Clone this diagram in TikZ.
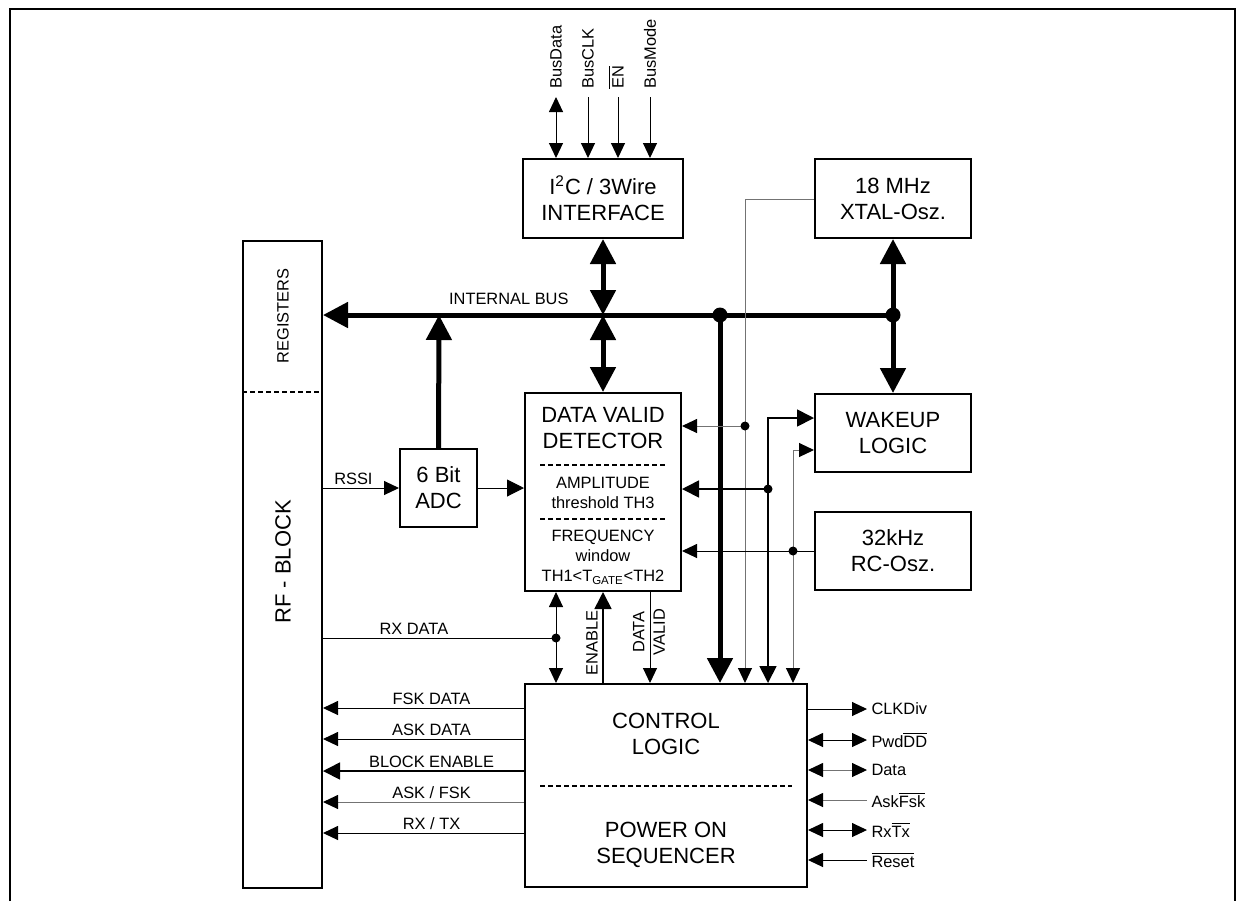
\documentclass[tikz,border=0pt]{standalone}
\usepackage{fontspec}
\setmainfont{Liberation Sans}
\usetikzlibrary{arrows.meta}
\newcommand\boxfont{\fontsize{11}{13}\selectfont}
\newcommand\lblfont{\fontsize{8.2}{10.2}\selectfont}
\newcommand\ovl[1]{$\overline{\mbox{#1}}$}

\begin{document}
\begin{tikzpicture}[x=0.5pt, y=-0.5pt,
    tS/.tip={Triangle[length=7.5pt,width=7pt,color=black]},
    tM/.tip={Triangle[length=8.5pt,width=8.5pt,color=black]},
    tL/.tip={Triangle[length=12.5pt,width=12.5pt]},
    box/.style={draw, line width=1pt, inner sep=0pt, align=center, font=\boxfont},
    txt/.style={inner sep=0pt, align=center, font=\boxfont},
    lbl/.style={inner sep=0pt, align=center, font=\lblfont},
    wire/.style={line width=0.5pt},
    gwire/.style={line width=0.5pt, draw=black!55},
    mwire/.style={line width=0.85pt},
    bus/.style={line width=2.5pt},
    sep/.style={line width=0.75pt, dash pattern=on 2.5pt off 1.5pt}]
    \useasboundingbox (0,0) rectangle (1236,901);
    \draw[line width=1pt] (10,901) -- (10,9) -- (1235,9) -- (1235,901);

    % blocks
    \node[box, minimum width=80pt, minimum height=39.5pt] (iface) at (603,198.5) {I\textsuperscript{2}C / 3Wire\\INTERFACE};
    \node[box, minimum width=78pt, minimum height=39.5pt] (xtal) at (893,198.5) {18 MHz\\XTAL-Osz.};
    \node[box, minimum width=78pt, minimum height=39pt] (wake) at (893,433) {WAKEUP\\LOGIC};
    \node[box, minimum width=78pt, minimum height=39pt] (rc) at (893,551) {32kHz\\RC-Osz.};
    \node[box, minimum width=38.5pt, minimum height=39pt] (adc) at (438.5,488) {6 Bit\\ADC};
    \node[box, minimum width=78pt, minimum height=99pt] (dvd) at (603,492) {};
    \node[box, minimum width=141pt, minimum height=101.5pt] (cl) at (666,785.5) {};
    \node[box, minimum width=39.5pt, minimum height=323.5pt] (rf) at (282.5,564.5) {};

    \node[txt] (dvdt) at (603,428) {DATA VALID\\DETECTOR};
    \node[lbl] (ampl) at (603,493) {AMPLITUDE\\threshold TH3};
    \node[lbl] (freq) at (603,557) {FREQUENCY\\window\\TH1<T\textsubscript{GATE}<TH2};
    \draw[sep] (540,465) -- (665,465);
    \draw[sep] (540,519) -- (665,519);

    \node[txt] (clt) at (666,734) {CONTROL\\LOGIC};
    \node[txt] (post) at (666,845) {POWER ON\\SEQUENCER};
    \draw[sep] (540,786) -- (792,786);

    \node[lbl, rotate=90] (reg) at (283,316) {REGISTERS};
    \node[txt, rotate=90] (rfb) at (283,562) {RF - BLOCK};
    \draw[sep] (rf.west |- 0,392) -- (rf.east |- 0,392);

    % bus pins
    \coordinate (pdata) at (556,97);
    \coordinate (pclk) at (588,97);
    \coordinate (pen) at (618,97);
    \coordinate (pmode) at (650,97);
    \draw[wire, tS-tS] (pdata) -- (iface.north -| pdata);
    \draw[wire, -tS] (pclk) -- (iface.north -| pclk);
    \draw[wire, -tS] (pen) -- (iface.north -| pen);
    \draw[wire, -tS] (pmode) -- (iface.north -| pmode);
    \node[lbl, rotate=90, anchor=west] (lbd) at (556,89) {BusData};
    \node[lbl, rotate=90, anchor=west] (lbc) at (588,89) {BusCLK};
    \node[lbl, rotate=90, anchor=west] (len) at (616,89) {\ovl{EN}};
    \node[lbl, rotate=90, anchor=west] (lbm) at (650,89) {BusMode};

    % internal bus
    \coordinate (j0) at (603,315);
    \coordinate (ja) at (439,315);
    \coordinate (j1) at (720,315);
    \coordinate (j2) at (893,315);
    \draw[bus, -tL] (j2) -- (rf.east |- j2) node[lbl, pos=0.674, above=4pt] (ibus) {INTERNAL BUS};
    \draw[bus, -tL] (adc.north) -- (ja);
    \draw[bus, tL-tL] (iface.south) -- (j0);
    \draw[bus, tL-tL] (j0) -- (dvd.north);
    \draw[bus, tL-tL] (xtal.south) -- (wake.north);
    \draw[bus, -tL] (j1) -- (cl.north -| j1);
    \fill (j1) circle (3.75pt);
    \fill (j2) circle (3.75pt);

    % clocks and wakeup
    \coordinate (c1) at (745,426);
    \coordinate (c2) at (768,489);
    \coordinate (c3) at (793,551);
    \draw[gwire, -tS] (xtal.west |- 0,199) -| (cl.north -| c1);
    \draw[gwire, -tS] (c1) -- (dvd.east |- c1);
    \draw[mwire, tM-tM] (wake.west |- 0,418) -| (cl.north -| c2);
    \draw[mwire, -tM] (c2) -- (dvd.east |- c2);
    \draw[gwire, tS-tS] (wake.west |- 0,450) -| (cl.north -| c3);
    \draw[wire, -tS] (rc.west) -- (dvd.east |- rc.west);
    \fill (c1) circle (2.25pt);
    \fill (c2) circle (2.25pt);
    \fill (c3) circle (2.25pt);

    % detector <-> control logic
    \coordinate (c4) at (556,638);
    \coordinate (en) at (603,640);
    \coordinate (dv) at (650,632);
    \draw[wire] (rf.east |- c4) -- (c4) node[lbl, pos=0.39, above=1.5pt] (lrx) {RX DATA};
    \draw[wire, tS-tS] (dvd.south -| c4) -- (cl.north -| c4);
    \fill (c4) circle (2.25pt);
    \draw[mwire, -tM] (cl.north -| en) -- (dvd.south -| en);
    \node[lbl, rotate=90] (lenable) at (592,643) {ENABLE};
    \draw[wire, -tS] (dvd.south -| dv) -- (cl.north -| dv);
    \node[lbl, rotate=90] (ldv) at (649,632) {DATA\\VALID};

    \draw[wire, -tS] (rf.east |- adc.west) -- (adc.west) node[lbl, pos=0.4, above=1.5pt] (lrssi) {RSSI};
    \draw[wire, -tM] (adc.east) -- (dvd.west |- adc.east);

    % control logic -> rf block
    \draw[wire, -tS] (cl.west |- 0,708) -- (rf.east |- 0,708) node[lbl, pos=0.46, above=1.5pt] (lfsk) {FSK DATA};
    \draw[wire, -tS] (cl.west |- 0,739) -- (rf.east |- 0,739) node[lbl, pos=0.46, above=1.5pt] (lask) {ASK DATA};
    \draw[mwire, -tM] (cl.west |- 0,771) -- (rf.east |- 0,771) node[lbl, pos=0.46, above=1.5pt] (lblk) {BLOCK ENABLE};
    \draw[gwire, -tS] (cl.west |- 0,802) -- (rf.east |- 0,802) node[lbl, pos=0.46, above=1.5pt] (laf) {ASK / FSK};
    \draw[wire, -tS] (cl.west |- 0,833) -- (rf.east |- 0,833) node[lbl, pos=0.46, above=1.5pt] (lrt) {RX / TX};

    % pins
    \draw[wire, -tS] (cl.east |- 0,709) -- (867,709) node[lbl, right=2pt] (lclk) {CLKDiv};
    \draw[wire, tS-tS] (cl.east |- 0,740) -- (867,740) node[lbl, right=2pt] (lpwd) {Pwd\ovl{DD}};
    \draw[gwire, tS-tS] (cl.east |- 0,770) -- (867,770) node[lbl, right=2pt] (ldata) {Data};
    \draw[gwire, tS-] (cl.east |- 0,800) -- (867,800) node[lbl, right=2pt] (lakf) {Ask\ovl{Fsk}};
    \draw[wire, tS-tS] (cl.east |- 0,830) -- (867,830) node[lbl, right=2pt] (lrxtx) {Rx\ovl{Tx}};
    \draw[wire, tS-] (cl.east |- 0,860) -- (867,860) node[lbl, right=2pt] (lrst) {\ovl{Reset}};
\end{tikzpicture}
\end{document}
